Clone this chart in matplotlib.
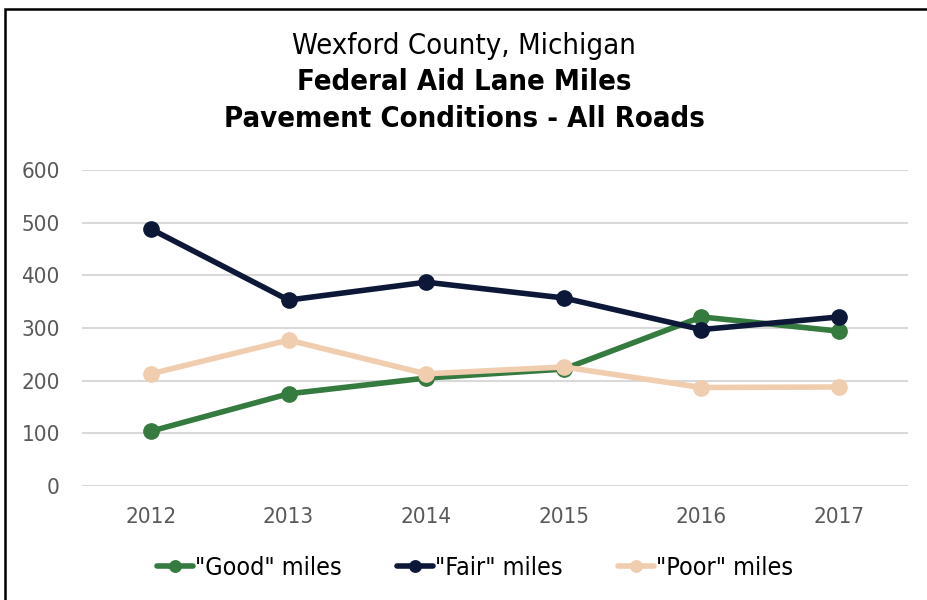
import matplotlib
matplotlib.use("Agg")
import matplotlib.pyplot as plt
from matplotlib.patches import Rectangle

plt.rcParams['font.family'] = ['DejaVu Sans']
plt.rcParams['font.stretch'] = 'condensed'

years = ["2012", "2013", "2014", "2015", "2016", "2017"]
good = [104, 175, 205, 222, 321, 294]
fair = [488, 353, 387, 357, 297, 321]
poor = [213, 277, 213, 226, 187, 188]

series = [
    ('"Good" miles', good, "#357A3E"),
    ('"Fair" miles', fair, "#0D1838"),
    ('"Poor" miles', poor, "#F0CDAE"),
]

fig = plt.figure(figsize=(9.28, 6.0), dpi=100)
ax = fig.add_axes([0.0884, 0.19, 0.89, 0.5267])

x = list(range(len(years)))
for label, vals, color in series:
    ax.plot(x, vals, color=color, linewidth=4.0, marker='o', markersize=11,
            label=label, solid_capstyle='round')

ax.set_xlim(-0.5, len(years) - 0.5)
ax.set_ylim(0, 600)
ax.set_yticks(range(0, 601, 100))
ax.set_xticks(x)
ax.set_xticklabels(years)
ax.grid(axis='y', color='#D9D9D9', linewidth=1.5)
ax.set_axisbelow(True)
for s in ax.spines.values():
    s.set_visible(False)
ax.tick_params(length=0, labelsize=16, colors='#595959')
ax.tick_params(axis='x', pad=15)
ax.tick_params(axis='y', pad=16)

fig.text(0.5, 0.923, "Wexford County, Michigan", ha='center', va='center', fontsize=21)
fig.text(0.5, 0.863, "Federal Aid Lane Miles", ha='center', va='center', fontsize=21, fontweight='bold')
fig.text(0.5, 0.802, "Pavement Conditions - All Roads", ha='center', va='center', fontsize=21, fontweight='bold')

leg = fig.legend(loc='center', bbox_to_anchor=(0.512, 0.053), ncol=3, frameon=False,
                 fontsize=18, handlelength=1.45, handletextpad=0.08, columnspacing=2.2,
                 markerscale=0.75)

# chart frame: left and top edges visible, right and bottom run past the canvas
fig.patches.append(Rectangle((5.5 / 928, -0.05), 1.0, 1 - 9 / 600 + 0.05,
                             transform=fig.transFigure, fill=False,
                             edgecolor='black', linewidth=1.8))

fig.savefig("out.png", dpi=100)
